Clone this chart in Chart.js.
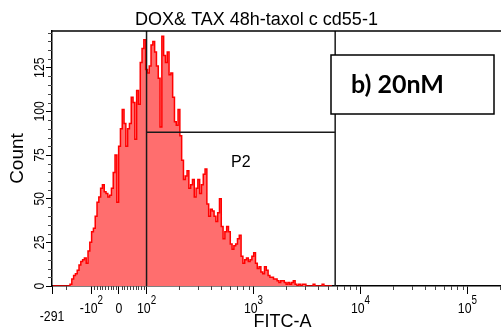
<!DOCTYPE html>
<html>
<head>
<meta charset="utf-8">
<script src="https://cdn.jsdelivr.net/npm/chart.js@4.4.0/dist/chart.umd.min.js"></script>
<style>
  html, body { margin: 0; padding: 0; background: #fff; overflow: hidden; }
</style>
</head>
<body>
<canvas id="histChart" width="514" height="335"></canvas>
<script>
// histogram counts per display bin (256 bins across the FITC-A axis)
const binCounts = [
  0, 0, 0, 0, 0, 0, 0, 0, 0, 0,
  1, 4, 6, 7, 9, 12, 14, 15, 16, 13,
  20, 25, 31, 33, 40, 48, 51, 56, 58, 54,
  53, 51, 52, 56, 65, 75, 48, 80, 90, 101,
  93, 80, 90, 93, 108, 105, 84, 112, 104, 128,
  136, 141, 124, 122, 126, 138, 140, 134, 126, 119,
  91, 143, 132, 128, 134, 121, 122, 108, 94, 92,
  101, 86, 72, 61, 63, 66, 56, 58, 61, 51,
  56, 61, 53, 58, 64, 67, 47, 40, 44, 43,
  40, 37, 42, 50, 34, 27, 31, 34, 31, 24,
  21, 23, 24, 27, 29, 17, 13, 15, 16, 14,
  15, 17, 19, 13, 10, 11, 8, 7, 11, 9,
  6, 5, 5, 4, 4, 3, 2, 3, 3, 2,
  1, 2, 1, 2, 3, 1, 0, 1, 0, 1,
  1, 0, 0, 0, 0, 1, 0, 0, 0, 0,
  1, 0, 0, 0, 0, 0
];

const tickValues = [-291, -100, 0, 100, 1000, 10000, 100000];
const tickBase = ['-291', '-10', '0', '10', '10', '10', '10'];
const tickExp = ['', '2', '', '2', '3', '4', '5'];
const tickRow = [1, 0, 0, 0, 0, 0, 0];
const minorXValues = [-200, -90, -80, -70, -60, -50, -40, -30, -20, -10, 10, 20, 30, 40, 50, 60, 70, 80, 90,
  200, 300, 400, 500, 600, 700, 800, 900, 2000, 3000, 4000, 5000, 6000, 7000, 8000, 9000,
  20000, 30000, 40000, 50000, 60000, 70000, 80000, 90000, 200000];
const countTicks = [0, 25, 50, 75, 100, 125];
const countMax = 146;

const gateLow = 100;
const gateHigh = 5800;
const gateLevel = 88;
const gateName = 'P2';

const titleText = 'DOX& TAX 48h-taxol c cd55-1';
const boxText = 'b) 20nM';

// biexponential-ish display transform: value -> bin position
function biex(v) {
    if (v >= 100) return 52.5 + 59.4 * Math.log10(v / 100);
    if (v >= -100) return 37.2 + 0.153 * v;
    return 21.9 - 47.2 * Math.log10(-v / 100);
}

const FONT = 'Liberation Sans, Arial, sans-serif';

const histPoints = binCounts.map((c, i) => ({ x: i + 0.5, y: c }));
const lo = biex(gateLow), hi = biex(gateHigh);

const extras = {
    id: 'extras',
    afterDraw(chart) {
        const ctx = chart.ctx;
        const xs = chart.scales.x, ys = chart.scales.y;
        const area = chart.chartArea;
        ctx.save();

        // top frame
        ctx.strokeStyle = '#000';
        ctx.lineWidth = 1.5;
        ctx.beginPath();
        ctx.moveTo(area.left, area.top);
        ctx.lineTo(area.right, area.top);
        ctx.stroke();

        // minor ticks
        ctx.strokeStyle = '#444';
        ctx.lineWidth = 1;
        ctx.beginPath();
        minorXValues.forEach(v => {
            const px = Math.round(xs.getPixelForValue(biex(v))) + 0.5;
            ctx.moveTo(px, area.bottom);
            ctx.lineTo(px, area.bottom + 4);
        });
        for (let c = 5; c < countMax; c += 5) {
            if (c % 25 === 0) continue;
            const py = Math.round(ys.getPixelForValue(c)) + 0.5;
            ctx.moveTo(area.left - 4, py);
            ctx.lineTo(area.left, py);
        }
        ctx.stroke();

        // x tick labels with exponents
        ctx.fillStyle = '#000';
        ctx.textBaseline = 'alphabetic';
        tickValues.forEach((v, i) => {
            const px = xs.getPixelForValue(biex(v));
            const baseY = area.bottom + 27 + tickRow[i] * 8;
            ctx.font = '15px ' + FONT;
            const wb = ctx.measureText(tickBase[i]).width * 0.82;
            ctx.font = '12px ' + FONT;
            const we = tickExp[i] ? ctx.measureText(tickExp[i]).width * 0.82 : 0;
            const start = px - (wb + we) / 2;
            ctx.save();
            ctx.translate(start, baseY);
            ctx.scale(0.82, 1);
            ctx.font = '15px ' + FONT;
            ctx.textAlign = 'left';
            ctx.fillText(tickBase[i], 0, 0);
            if (tickExp[i]) {
                ctx.font = '12px ' + FONT;
                ctx.fillText(tickExp[i], wb / 0.82, -9);
            }
            ctx.restore();
        });

        // y tick labels, rotated
        countTicks.forEach(c => {
            const py = ys.getPixelForValue(c);
            ctx.save();
            ctx.translate(40, py);
            ctx.rotate(-Math.PI / 2);
            ctx.scale(0.82, 1);
            ctx.font = '15px ' + FONT;
            ctx.textAlign = 'center';
            ctx.textBaseline = 'middle';
            ctx.fillText(String(c), 0, 0);
            ctx.restore();
        });

        // gate name
        ctx.font = '16px ' + FONT;
        ctx.textAlign = 'center';
        ctx.textBaseline = 'alphabetic';
        ctx.fillText(gateName, xs.getPixelForValue((lo + hi) / 2), ys.getPixelForValue(gateLevel) + 35);

        // panel label box
        const bx = area.left + 279, by = 55, bw = 163, bh = 59;
        ctx.fillStyle = '#fff';
        ctx.fillRect(bx, by, bw, bh);
        ctx.strokeStyle = '#000';
        ctx.lineWidth = 1.5;
        ctx.strokeRect(bx, by, bw, bh);
        ctx.fillStyle = '#000';
        ctx.font = 'bold 25px Lato, ' + FONT;
        ctx.textAlign = 'left';
        ctx.fillText(boxText, bx + 20, by + 38);

        ctx.restore();
    }
};

function gateLine(points) {
    return {
        type: 'line',
        data: points,
        borderColor: '#1a1a1a',
        borderWidth: 1.5,
        pointRadius: 0,
        fill: false,
        order: 0
    };
}

const ctx = document.getElementById('histChart').getContext('2d');
const histChart = new Chart(ctx, {
    type: 'line',
    data: {
        datasets: [
            {
                label: 'FITC-A',
                data: histPoints,
                stepped: 'middle',
                borderColor: '#ff0000',
                borderWidth: 1.5,
                backgroundColor: '#ff6e6e',
                fill: 'origin',
                pointRadius: 0,
                order: 1
            },
            gateLine([{ x: lo, y: 0 }, { x: lo, y: countMax }]),
            gateLine([{ x: hi, y: 0 }, { x: hi, y: countMax }]),
            gateLine([{ x: lo, y: gateLevel }, { x: hi, y: gateLevel }])
        ]
    },
    options: {
        responsive: false,
        animation: false,
        layout: { padding: { left: 0, right: 1, top: 0, bottom: 0 } },
        plugins: {
            legend: { display: false },
            tooltip: { enabled: false },
            title: {
                display: true,
                text: titleText,
                color: '#000',
                font: { family: FONT, size: 18, weight: 'normal' },
                padding: { top: 9, bottom: 0.4 }
            }
        },
        scales: {
            x: {
                type: 'linear',
                min: 0,
                max: 256,
                afterBuildTicks: scale => { scale.ticks = tickValues.map(v => ({ value: biex(v) })); },
                afterFit: scale => { scale.height = 49; },
                ticks: { display: false, autoSkip: false },
                grid: { drawOnChartArea: false, drawTicks: true, tickLength: 8, color: '#000', lineWidth: 1 },
                border: { display: true, color: '#000', width: 1.5 },
                title: {
                    display: true,
                    text: 'FITC-A',
                    color: '#000',
                    font: { family: FONT, size: 18 },
                    padding: { top: 0, bottom: 2 }
                }
            },
            y: {
                min: 0,
                max: countMax,
                afterBuildTicks: scale => { scale.ticks = countTicks.map(v => ({ value: v })); },
                afterFit: scale => { scale.width = 52; },
                ticks: { display: false },
                grid: { drawOnChartArea: false, drawTicks: true, tickLength: 6, color: '#000', lineWidth: 1 },
                border: { display: true, color: '#000', width: 1.5 },
                title: {
                    display: true,
                    text: 'Count',
                    color: '#000',
                    font: { family: FONT, size: 19 },
                    padding: { top: 6, bottom: 0 }
                }
            }
        }
    },
    plugins: [extras]
});
</script>
</body>
</html>
